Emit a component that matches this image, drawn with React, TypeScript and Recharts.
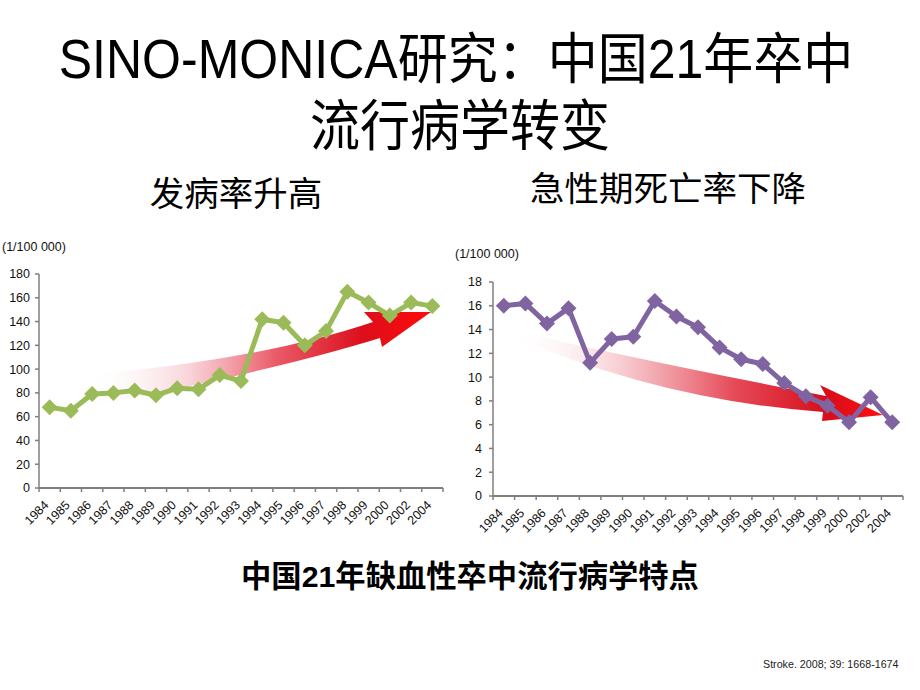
import React from "react";
import { LineChart, Line, XAxis, YAxis, ReferenceLine } from "recharts";

const years = [
  "1984", "1985", "1986", "1987", "1988", "1989", "1990", "1991", "1992", "1993",
  "1994", "1995", "1996", "1997", "1998", "1999", "2000", "2002", "2004"
];

// 发病率 (1/100 000)
const incidence = [68, 65, 79, 80, 82, 78, 84, 83, 95, 90, 142, 139, 120, 132, 165, 156, 145, 156, 153];
const incidenceTicks = [0, 20, 40, 60, 80, 100, 120, 140, 160, 180];

// 急性期死亡率 (1/100 000)
const mortality = [16.0, 16.2, 14.5, 15.8, 11.2, 13.2, 13.4, 16.4, 15.1, 14.2, 12.5, 11.5, 11.1, 9.5, 8.4, 7.6, 6.2, 8.3, 6.2];
const mortalityTicks = [0, 2, 4, 6, 8, 10, 12, 14, 16, 18];

const FONT = '"Liberation Sans", Arial, "Noto Sans CJK SC", sans-serif';
const AXIS = "#7f7f7f";

interface TrendChartProps {
  values: number[];
  ticks: number[];
  color: string;
  width: number;
  height: number;
  margin: { top: number; right: number; bottom: number; left: number };
  yWidth: number;
  tickMargin: number;
}

const Diamond = (props: any) => {
  const { cx, cy, index, fill } = props;
  if (cx == null || cy == null) return null;
  const r = 8;
  return (
    <path
      key={`d-${index}`}
      d={`M${cx},${cy - r}L${cx + r},${cy}L${cx},${cy + r}L${cx - r},${cy}Z`}
      fill={fill}
    />
  );
};

// excel-style: tick marks between categories, labels rotated under the centre
const makeCategoryTick = (band: number, count: number) => (props: any) => {
  const { x, y, payload, index } = props;
  const tx = x - 3;
  const ty = y + 15;
  const left = x - band / 2;
  return (
    <g>
      {index === 0 && (
        <line x1={left} x2={left + band * count} y1={y} y2={y} stroke={AXIS} strokeWidth={1.5} />
      )}
      <line x1={left} x2={left} y1={y} y2={y + 4} stroke={AXIS} strokeWidth={1.5} />
      {index === count - 1 && (
        <line x1={x + band / 2} x2={x + band / 2} y1={y} y2={y + 4} stroke={AXIS} strokeWidth={1.5} />
      )}
      <text
        x={tx}
        y={ty}
        textAnchor="end"
        dominantBaseline="central"
        transform={`rotate(-45 ${tx} ${ty})`}
        fontSize={12.5}
        fill="#111"
        fontFamily={FONT}
      >
        {payload.value}
      </text>
    </g>
  );
};

const TrendChart = ({ values, ticks, color, width, height, margin, yWidth, tickMargin }: TrendChartProps) => {
  const data = years.map((year, i) => ({ year, value: values[i] }));
  const band = (width - margin.left - margin.right - yWidth) / years.length;

  return (
    <LineChart width={width} height={height} data={data} margin={margin}>
      <XAxis
        dataKey="year"
        scale="band"
        interval={0}
        axisLine={{ stroke: AXIS, strokeWidth: 1.5 }}
        tickLine={false}
        tickSize={0}
        tickMargin={0}
        height={1}
        tick={makeCategoryTick(band, years.length)}
      />
      <YAxis
        domain={[ticks[0], ticks[ticks.length - 1]]}
        ticks={ticks}
        interval={0}
        width={yWidth}
        tickSize={4}
        tickMargin={tickMargin}
        stroke={AXIS}
        strokeWidth={1.5}
        tick={{ fontSize: 12.5, fill: "#111", fontFamily: FONT }}
      />
      {/* baseline of the category axis */}
      <ReferenceLine y={ticks[0]} stroke={AXIS} strokeWidth={2} ifOverflow="visible" />
      <Line
        dataKey="value"
        stroke={color}
        strokeWidth={5}
        strokeLinejoin="round"
        dot={<Diamond fill={color} />}
        activeDot={false}
        isAnimationActive={false}
      />
    </LineChart>
  );
};

const App = () => {
  return (
    <div
      style={{
        position: "absolute",
        left: 0,
        top: 0,
        width: 920,
        height: 690,
        background: "#fff",
        overflow: "hidden",
        fontFamily: FONT,
        color: "#000"
      }}
    >
      {/* trend arrows, behind the series */}
      <svg width={920} height={690} style={{ position: "absolute", left: 0, top: 0 }}>
        <defs>
          <linearGradient id="upArrow" gradientUnits="userSpaceOnUse" x1={85} y1={0} x2={432} y2={0}>
            <stop offset="0" stopColor="#ffffff" stopOpacity={0} />
            <stop offset="0.3" stopColor="#f7c9ce" stopOpacity={0.8} />
            <stop offset="0.55" stopColor="#ea5a68" />
            <stop offset="0.8" stopColor="#dc0f1c" />
            <stop offset="1" stopColor="#ff0a0a" />
          </linearGradient>
          <linearGradient id="downArrow" gradientUnits="userSpaceOnUse" x1={510} y1={0} x2={883} y2={0}>
            <stop offset="0" stopColor="#ffffff" stopOpacity={0} />
            <stop offset="0.3" stopColor="#f6c3c9" stopOpacity={0.85} />
            <stop offset="0.6" stopColor="#e54a58" />
            <stop offset="0.85" stopColor="#d80d1a" />
            <stop offset="1" stopColor="#ff1010" />
          </linearGradient>
        </defs>
        <path
          d="M85,375 Q260,360 373,322 L364,312 L431,312 L382,347 L380,338 Q270,372 85,407 Z"
          fill="url(#upArrow)"
        />
        <path
          d="M510,330 Q640,360 826,396 L820,385 L883,415 L822,421 L823,412 Q660,400 512,336 Z"
          fill="url(#downArrow)"
        />
      </svg>

      <div
        style={{
          position: "absolute",
          left: 0,
          top: 33,
          width: 912,
          textAlign: "center",
          fontSize: 50,
          lineHeight: "52px",
          transform: "scaleY(1.1)"
        }}
      >
        SINO-MONICA研究：中国21年卒中
      </div>
      <div
        style={{
          position: "absolute",
          left: 0,
          top: 100,
          width: 920,
          textAlign: "center",
          fontSize: 50,
          lineHeight: "52px",
          transform: "scaleY(1.1)"
        }}
      >
        流行病学转变
      </div>

      <div style={{ position: "absolute", left: 136, top: 176, width: 200, textAlign: "center", fontSize: 34.5, lineHeight: "36px" }}>
        发病率升高
      </div>
      <div style={{ position: "absolute", left: 518, top: 171, width: 300, textAlign: "center", fontSize: 34.5, lineHeight: "36px" }}>
        急性期死亡率下降
      </div>

      <div style={{ position: "absolute", left: 2, top: 240, fontSize: 12.5, color: "#111" }}>(1/100 000)</div>
      <div style={{ position: "absolute", left: 455, top: 247, fontSize: 12.5, color: "#111" }}>(1/100 000)</div>

      <div style={{ position: "absolute", left: 0, top: 250 }}>
        <TrendChart
          values={incidence}
          ticks={incidenceTicks}
          color="#9BBB59"
          width={450}
          height={300}
          margin={{ top: 24, right: 7, bottom: 61, left: 0 }}
          yWidth={39}
          tickMargin={5}
        />
      </div>
      <div style={{ position: "absolute", left: 450, top: 260 }}>
        <TrendChart
          values={mortality}
          ticks={mortalityTicks}
          color="#8064A2"
          width={470}
          height={300}
          margin={{ top: 22, right: 17, bottom: 63, left: 0 }}
          yWidth={43}
          tickMargin={7}
        />
      </div>

      <div
        style={{
          position: "absolute",
          left: 0,
          top: 560,
          width: 940,
          textAlign: "center",
          fontSize: 30.3,
          fontWeight: "bold",
          lineHeight: "34px"
        }}
      >
        中国21年缺血性卒中流行病学特点
      </div>

      <div style={{ position: "absolute", left: 763, top: 658, fontSize: 10.7, color: "#222" }}>
        Stroke. 2008; 39: 1668-1674
      </div>
    </div>
  );
};

export default App;
